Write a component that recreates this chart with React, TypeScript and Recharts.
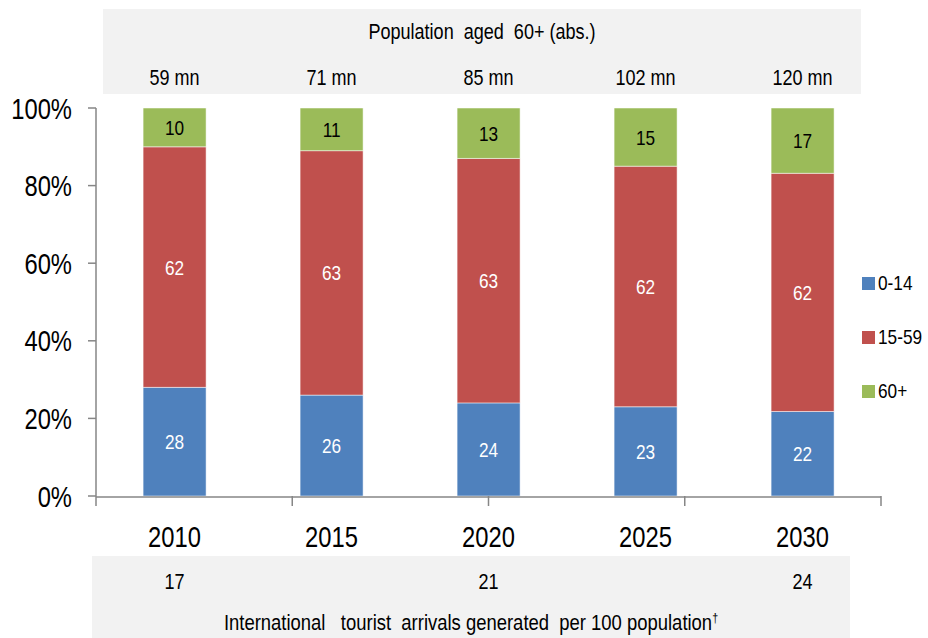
import { BarChart, Bar, XAxis, YAxis, LabelList } from "recharts";

const years = ["2010", "2015", "2020", "2025", "2030"];
const age0to14 = [28, 26, 24, 23, 22];
const age15to59 = [62, 63, 63, 62, 62];
const age60plus = [10, 11, 13, 15, 17];
const pop60Labels = ["59 mn", "71 mn", "85 mn", "102 mn", "120 mn"];
const arrivalsLabels = ["17", "", "21", "", "24"];
const yTicks = [0, 0.2, 0.4, 0.6, 0.8, 1];
const boundaryTicks = [0, 1, 2, 3, 4, 5];

const series = [
  { key: "young", name: "0-14", color: "#4F81BD", text: "#ffffff" },
  { key: "working", name: "15-59", color: "#C0504D", text: "#ffffff" },
  { key: "old", name: "60+", color: "#9BBB59", text: "#000000" },
];

const data = years.map((y, i) => ({
  year: y,
  young: age0to14[i],
  working: age15to59[i],
  old: age60plus[i],
}));

const FONT = '"Liberation Sans", Arial, sans-serif';
const NARROW = 0.82; // fake Arial Narrow
const AXIS = "#868686";
const BOX = "#F2F2F2";

// text drawn with a horizontal squeeze, anchored at (x, baseline)
function Narrow({ x, y, size, anchor = "middle", fill = "#000", children }: any) {
  return (
    <text
      transform={`translate(${x},${y}) scale(${NARROW},1)`}
      textAnchor={anchor}
      fontSize={size}
      fontFamily={FONT}
      fill={fill}
    >
      {children}
    </text>
  );
}

function TopTick({ x, y, payload }: any) {
  return (
    <Narrow x={x} y={y - 23} size={22}>
      {pop60Labels[payload.index]}
    </Narrow>
  );
}

function YearTick({ x, y, payload }: any) {
  return (
    <g>
      <Narrow x={x} y={y + 50} size={29}>
        {payload.value}
      </Narrow>
      <Narrow x={x} y={y + 92} size={22}>
        {arrivalsLabels[payload.index]}
      </Narrow>
    </g>
  );
}

function PctTick({ x, y, payload }: any) {
  return (
    <Narrow x={x} y={y + 10.5} size={29} anchor="end">
      {`${Math.round(payload.value * 100)}%`}
    </Narrow>
  );
}

const barLabel = (fill: string) => (props: any) => {
  const { x, y, width, height, value } = props;
  return (
    <Narrow x={x + width / 2} y={y + height / 2 + 7.5} size={21} fill={fill}>
      {value}
    </Narrow>
  );
};

const htmlNarrow = {
  transform: `scaleX(${NARROW})`,
  whiteSpace: "nowrap" as const,
};

export default function App() {
  return (
    <div
      style={{
        position: "absolute",
        left: 0,
        top: 0,
        width: 928,
        height: 638,
        background: "#fff",
        fontFamily: FONT,
        overflow: "hidden",
      }}
    >
      <div style={{ position: "absolute", left: 103, top: 9, width: 758, height: 85, background: BOX }} />
      <div style={{ position: "absolute", left: 92, top: 556, width: 758, height: 82, background: BOX }} />
      <div
        style={{
          position: "absolute",
          left: 103,
          top: 19,
          width: 758,
          textAlign: "center",
          fontSize: 22,
          lineHeight: "26px",
          ...htmlNarrow,
        }}
      >
        Population&nbsp; aged&nbsp; 60+ (abs.)
      </div>
      <div
        style={{
          position: "absolute",
          left: 0,
          top: 610,
          width: 942,
          textAlign: "center",
          fontSize: 22.5,
          lineHeight: "26px",
          ...htmlNarrow,
        }}
      >
        International&nbsp;&nbsp; tourist&nbsp; arrivals generated&nbsp; per 100 population
        <sup style={{ fontSize: 13, lineHeight: 0 }}>†</sup>
      </div>

      <div style={{ position: "absolute", left: 0, top: 0 }}>
        <BarChart
          width={928}
          height={638}
          data={data}
          stackOffset="expand"
          barCategoryGap="30%"
          margin={{ top: 0, right: 47, left: 10, bottom: 140 }}
        >
          <XAxis
            xAxisId="top"
            orientation="top"
            dataKey="year"
            height={108}
            axisLine={false}
            tickLine={false}
            tickSize={0}
            tickMargin={0}
            interval={0}
            tick={<TopTick />}
          />
          <XAxis
            xAxisId="year"
            dataKey="year"
            height={1}
            axisLine={{ stroke: AXIS, strokeWidth: 1.5 }}
            tickLine={false}
            tickSize={0}
            tickMargin={0}
            interval={0}
            tick={<YearTick />}
          />
          <XAxis
            xAxisId="bounds"
            type="number"
            domain={[0, 5]}
            ticks={boundaryTicks}
            height={1}
            interval={0}
            tick={() => <g />}
            axisLine={false}
            tickLine={{ stroke: AXIS, strokeWidth: 1.5 }}
            tickSize={10}
            allowDataOverflow
          />
          <YAxis
            width={86}
            domain={[0, 1]}
            ticks={yTicks}
            axisLine={{ stroke: AXIS, strokeWidth: 1.5 }}
            tickLine={{ stroke: AXIS, strokeWidth: 1.5 }}
            tickSize={8}
            tickMargin={16}
            tick={<PctTick />}
          />
          {series.map((s) => (
            <Bar
              key={s.key}
              xAxisId="year"
              dataKey={s.key}
              name={s.name}
              stackId="age"
              fill={s.color}
              stroke="#ffffff"
              strokeOpacity={0.5}
              strokeWidth={1}
              isAnimationActive={false}
            >
              <LabelList dataKey={s.key} content={barLabel(s.text)} />
            </Bar>
          ))}
        </BarChart>
      </div>

      {series.map((s, i) => (
        <div
          key={s.key}
          style={{
            position: "absolute",
            left: 862,
            top: 270 + i * 54,
            display: "flex",
            alignItems: "center",
            fontSize: 21,
            lineHeight: "26px",
            whiteSpace: "nowrap",
          }}
        >
          <span style={{ width: 13, height: 13, background: s.color, display: "inline-block", marginRight: 3 }} />
          <span style={{ display: "inline-block", transform: `scaleX(${NARROW})`, transformOrigin: "left center" }}>
            {s.name}
          </span>
        </div>
      ))}
    </div>
  );
}
